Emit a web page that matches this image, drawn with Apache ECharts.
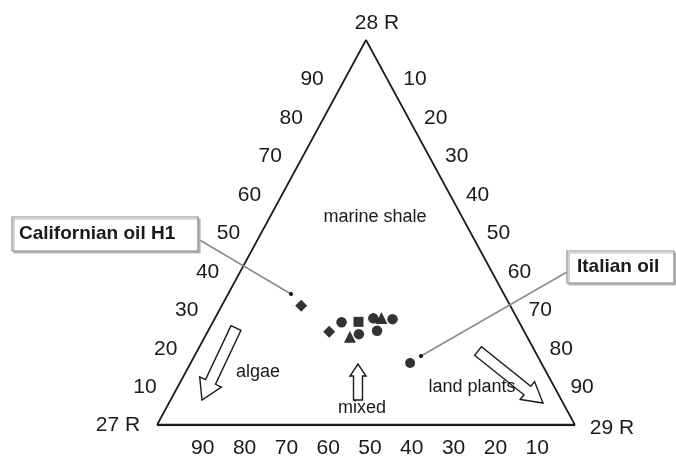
<!DOCTYPE html>
<html>
<head>
<meta charset="utf-8">
<script src="https://cdn.jsdelivr.net/npm/echarts@6/dist/echarts.min.js"></script>
<style>
html,body{margin:0;padding:0;background:#fff;}
#chart{width:676px;height:458px;}
</style>
</head>
<body>
<div id="chart"></div>
<script>
// Ternary values are [27R %, 29R %, 28R %]
const tickValues = [10, 20, 30, 40, 50, 60, 70, 80, 90];
const vertexNames = ['27 R', '29 R', '28 R'];
const californianOil = [[50, 19, 31]];
const italianOil = [[31.4, 52.5, 16.1]];
const diamondSamples = [[46.7, 29.1, 24.2]];
const circleSamples = [[42.5, 30.8, 26.7], [39.9, 36.5, 23.6], [34.4, 37.9, 27.7], [29.9, 42.6, 27.5], [35.1, 40.4, 24.5]];
const squareSamples = [[38.4, 34.8, 26.8]];
const triangleSamples = [[42.4, 34.7, 22.9], [32.4, 39.8, 27.8]];
const fieldLabels = ['marine shale', 'algae', 'mixed', 'land plants'];
const calloutLabels = ['Californian oil H1', 'Italian oil'];

function toXY(t) {
  const s = t[0] + t[1] + t[2];
  const b = t[1] / s * 100, c = t[2] / s * 100;
  return [b + c / 2, c];
}

const corners = [[100, 0, 0], [0, 100, 0], [0, 0, 100]].map(toXY);
const FONT = '"Liberation Sans", Arial, sans-serif';
const TXT = '#1a1a1a';

function labelSeries(points, texts, dx, dy, size) {
  return {
    type: 'custom',
    silent: true,
    data: points,
    z: 5,
    renderItem: function (params, api) {
      const p = api.coord([api.value(0), api.value(1)]);
      return {
        type: 'text',
        x: p[0] + dx,
        y: p[1] + dy,
        style: {
          text: String(texts[params.dataIndex]),
          font: size + 'px ' + FONT,
          fill: TXT,
          align: 'center',
          verticalAlign: 'middle'
        }
      };
    }
  };
}

const leftTicks = tickValues.map(t => toXY([100 - t, 0, t]));
const rightTicks = tickValues.map(t => toXY([0, t, 100 - t]));
const bottomTicks = tickValues.map(t => toXY([t, 100 - t, 0]));

function blockArrow(tail, tip, sw, hw, hl) {
  const dx = tip[0] - tail[0], dy = tip[1] - tail[1];
  const L = Math.hypot(dx, dy);
  const ux = dx / L, uy = dy / L, px = -uy, py = ux;
  const bx = tip[0] - ux * hl, by = tip[1] - uy * hl;
  return [
    [tail[0] + px * sw / 2, tail[1] + py * sw / 2],
    [bx + px * sw / 2, by + py * sw / 2],
    [bx + px * hw / 2, by + py * hw / 2],
    tip,
    [bx - px * hw / 2, by - py * hw / 2],
    [bx - px * sw / 2, by - py * sw / 2],
    [tail[0] - px * sw / 2, tail[1] - py * sw / 2]
  ];
}

const markerStyle = { color: '#000' };
const chart = echarts.init(document.getElementById('chart'), null, { renderer: 'canvas' });

const option = {
  backgroundColor: '#fff',
  animation: false,
  grid: { left: 157, top: 40, width: 418, height: 385 },
  xAxis: { type: 'value', min: 0, max: 100, show: false },
  yAxis: { type: 'value', min: 0, max: 100, show: false },
  series: [
    {
      type: 'line', data: [corners[0], corners[2], corners[1]], symbol: 'none', silent: true,
      lineStyle: { color: '#1a1a1a', width: 1.7 }
    },
    {
      type: 'line', data: [corners[0], corners[1]], symbol: 'none', silent: true,
      lineStyle: { color: '#1a1a1a', width: 2.6 }
    },
    labelSeries(leftTicks, tickValues, -33, 1, 21),
    labelSeries(rightTicks, tickValues, 28, 1, 21),
    labelSeries(bottomTicks, tickValues, 4, 23, 21),
    labelSeries([corners[0]], [vertexNames[0]], -39, 0, 21),
    labelSeries([corners[1]], [vertexNames[1]], 37, 3, 21),
    labelSeries([corners[2]], [vertexNames[2]], 11, -17, 21),
    { type: 'scatter', symbol: 'diamond', symbolSize: 12, data: californianOil.map(toXY), itemStyle: markerStyle, z: 6 },
    { type: 'scatter', symbol: 'circle', symbolSize: 10, data: italianOil.map(toXY), itemStyle: markerStyle, z: 6 },
    { type: 'scatter', symbol: 'diamond', symbolSize: 12, data: diamondSamples.map(toXY), itemStyle: markerStyle, z: 6 },
    { type: 'scatter', symbol: 'circle', symbolSize: 10.5, data: circleSamples.map(toXY), itemStyle: markerStyle, z: 6 },
    { type: 'scatter', symbol: 'rect', symbolSize: 10, data: squareSamples.map(toXY), itemStyle: markerStyle, z: 6 },
    { type: 'scatter', symbol: 'triangle', symbolSize: 12, data: triangleSamples.map(toXY), itemStyle: markerStyle, z: 6 }
  ],
  graphic: [
    // hollow block arrows
    { type: 'polygon', shape: { points: blockArrow([236, 328], [202, 400], 11, 24, 20) }, style: { fill: '#fff', stroke: '#1a1a1a', lineWidth: 1.4 }, z: 3 },
    { type: 'polygon', shape: { points: blockArrow([358, 400], [358, 364], 9, 16, 12) }, style: { fill: '#fff', stroke: '#1a1a1a', lineWidth: 1.4 }, z: 3 },
    { type: 'polygon', shape: { points: blockArrow([478, 351], [543, 403], 11, 23, 20) }, style: { fill: '#fff', stroke: '#1a1a1a', lineWidth: 1.4 }, z: 3 },
    // field labels
    { type: 'text', x: 375, y: 217, style: { text: fieldLabels[0], font: '18px ' + FONT, fill: TXT, align: 'center', verticalAlign: 'middle' }, z: 4 },
    { type: 'text', x: 258, y: 372, style: { text: fieldLabels[1], font: '18px ' + FONT, fill: TXT, align: 'center', verticalAlign: 'middle' }, z: 4 },
    { type: 'text', x: 362, y: 408, style: { text: fieldLabels[2], font: '18px ' + FONT, fill: TXT, align: 'center', verticalAlign: 'middle' }, z: 4 },
    { type: 'text', x: 472, y: 387, style: { text: fieldLabels[3], font: '18px ' + FONT, fill: TXT, align: 'center', verticalAlign: 'middle' }, z: 4 },
    // callout leader lines
    { type: 'line', shape: { x1: 198, y1: 239, x2: 291, y2: 294 }, style: { stroke: '#8a8a8a', lineWidth: 1.5 }, z: 4 },
    { type: 'circle', shape: { cx: 291, cy: 294, r: 2 }, style: { fill: '#111' }, z: 4 },
    { type: 'line', shape: { x1: 567, y1: 272, x2: 421, y2: 356 }, style: { stroke: '#8a8a8a', lineWidth: 1.5 }, z: 4 },
    { type: 'circle', shape: { cx: 421, cy: 356, r: 2 }, style: { fill: '#111' }, z: 4 },
    // callout boxes
    { type: 'rect', shape: { x: 12, y: 217, width: 186, height: 34 }, style: { fill: '#fff', stroke: '#8c8c8c', lineWidth: 1.2, shadowColor: '#b5b5b5', shadowOffsetX: 2, shadowOffsetY: 2, shadowBlur: 0 }, z: 5 },
    { type: 'text', x: 19, y: 234, style: { text: calloutLabels[0], font: 'bold 19px ' + FONT, fill: TXT, align: 'left', verticalAlign: 'middle' }, z: 6 },
    { type: 'rect', shape: { x: 567, y: 251, width: 107, height: 32 }, style: { fill: '#fff', stroke: '#8c8c8c', lineWidth: 1.2, shadowColor: '#b5b5b5', shadowOffsetX: 2, shadowOffsetY: 2, shadowBlur: 0 }, z: 5 },
    { type: 'text', x: 577, y: 267, style: { text: calloutLabels[1], font: 'bold 19px ' + FONT, fill: TXT, align: 'left', verticalAlign: 'middle' }, z: 6 }
  ]
};
chart.setOption(option);
</script>
</body>
</html>
